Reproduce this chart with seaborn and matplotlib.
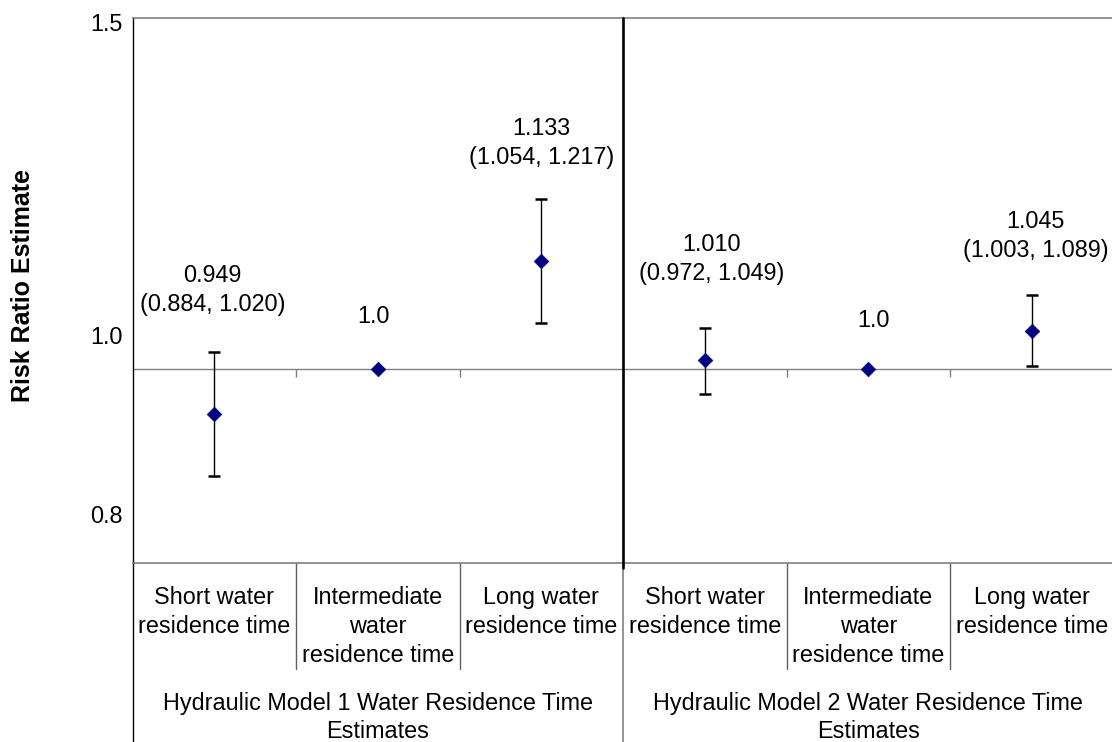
import numpy as np
import pandas as pd
import matplotlib
matplotlib.use("Agg")
import matplotlib.pyplot as plt
import matplotlib.transforms as mtransforms
from matplotlib.ticker import FixedLocator, FixedFormatter, NullFormatter
import seaborn as sns

# ---------------- data ----------------
categories = [
    "Short water\nresidence time",
    "Intermediate\nwater\nresidence time",
    "Long water\nresidence time",
    "Short water\nresidence time",
    "Intermediate\nwater\nresidence time",
    "Long water\nresidence time",
]
groups = [
    "Hydraulic Model 1 Water Residence Time\nEstimates",
    "Hydraulic Model 2 Water Residence Time\nEstimates",
]
group_index = [0, 0, 0, 1, 1, 1]
estimates = [0.949, 1.0, 1.133, 1.010, 1.0, 1.045]
lower = [0.884, np.nan, 1.054, 0.972, np.nan, 1.003]
upper = [1.020, np.nan, 1.217, 1.049, np.nan, 1.089]
ytick_labels = ["0.8", "1.0", "1.5"]
y_label = "Risk Ratio Estimate"

# ---------------- layout / style ----------------
label_offsets = [(-2, 41), (-4, 46), (0, 35), (7, 48), (5, 42), (4, 38)]  # pixels
ytick_label_pos = [0.846, 1.040, 1.493]
ytick_mark_pos = [0.8, 1.0073, 1.4238]
FS = 16.8
LS = 1.32
GRAY = "#808080"
NAVY = "#000080"

sns.set_style("white")
plt.rcParams["font.family"] = ["Liberation Sans", "DejaVu Sans"]
plt.rcParams["text.color"] = "black"
plt.rcParams["ytick.color"] = "black"
plt.rcParams["axes.labelcolor"] = "black"

df = pd.DataFrame({
    "pos": np.arange(len(categories)),
    "rr": estimates,
    "lo": lower,
    "hi": upper,
    "group": group_index,
})

fig = plt.figure(figsize=(11.12, 7.42), dpi=100)
W, H = 1112, 742
ax = fig.add_axes([132.5 / W, (H - 562.5) / H, 981 / W, 545 / H])

# reference line at 1.0 with category tick marks
ax.axhline(1.0, color=GRAY, lw=1.0, zorder=1)
boundaries = np.arange(len(categories) - 1) + 0.5
ax.plot(boundaries, np.ones_like(boundaries), linestyle="none", marker=3,
        markersize=5.5, markeredgewidth=1.0, color=GRAY, zorder=1)

# error bars
m = df["lo"].notna()
sub = df[m]
ax.errorbar(sub["pos"], sub["rr"], yerr=[sub["rr"] - sub["lo"], sub["hi"] - sub["rr"]],
            fmt="none", ecolor="black", elinewidth=1.0, capsize=4, capthick=1.8, zorder=3)

# points
sns.scatterplot(data=df, x="pos", y="rr", marker="D", color=NAVY, s=55,
                edgecolor=NAVY, linewidth=0.5, zorder=5, ax=ax, legend=False)

ax.set_yscale("log")
ax.set_ylim(0.8, 1.5)
ax.set_xlim(-0.5, len(categories) - 0.5)
ax.set_xlabel("")
ax.set_ylabel("")
ax.set_xticks([])
ax.yaxis.set_major_locator(FixedLocator(ytick_label_pos))
ax.yaxis.set_major_formatter(FixedFormatter(ytick_labels))
ax.yaxis.set_minor_locator(FixedLocator(ytick_mark_pos))
ax.yaxis.set_minor_formatter(NullFormatter())
ax.tick_params(axis="y", which="major", length=0, pad=7, labelsize=FS, labelcolor="black")
ax.tick_params(axis="y", which="minor", length=3.5, width=0.9, color="black", direction="out")

for side in ["top", "bottom"]:
    ax.spines[side].set_color(GRAY)
    ax.spines[side].set_linewidth(1.2)
ax.spines["left"].set_color("black")
ax.spines["left"].set_linewidth(1.0)
ax.spines["right"].set_visible(False)

# value labels
for i, r in df.iterrows():
    if np.isnan(r["lo"]):
        txt = f"{r['rr']:.1f}"
        anchor = r["rr"]
    else:
        txt = f"{r['rr']:.3f}\n({r['lo']:.3f}, {r['hi']:.3f})"
        anchor = r["hi"]
    ax.annotate(txt, xy=(r["pos"], anchor), xytext=label_offsets[i],
                textcoords="offset pixels", ha="center", va="baseline",
                fontsize=FS, linespacing=LS, color="black")

# separator between models
trans = mtransforms.blended_transform_factory(ax.transData, ax.transAxes)
sep_x = 2.5
ax.plot([sep_x, sep_x], [-0.011, 1.0], color="black", lw=1.9, transform=trans,
        clip_on=False, zorder=6)

# category table below
cat_bottom = (562.5 - 669) / 545
grp_bottom = (562.5 - 742) / 545
for b in boundaries:
    if b == sep_x:
        ax.plot([b, b], [0, grp_bottom], color=GRAY, lw=1.2, transform=trans, clip_on=False)
    else:
        ax.plot([b, b], [0, cat_bottom], color="#606060", lw=1.0, transform=trans, clip_on=False)
ax.plot([-0.5, -0.5], [0, grp_bottom], color="black", lw=1.0, transform=trans, clip_on=False)

for i, c in enumerate(categories):
    ax.text(i, (562.5 - 586) / 545, c, transform=trans, ha="center", va="top",
            fontsize=FS, linespacing=LS, color="black")

for g, name in enumerate(groups):
    xs = df.loc[df["group"] == g, "pos"]
    ax.text(xs.mean(), (562.5 - 692) / 545, name, transform=trans, ha="center",
            va="top", fontsize=FS, linespacing=LS - 0.04, color="black")

fig.text(23 / W, 1 - 285 / H, y_label, rotation=90, fontsize=18, fontweight="bold",
         ha="center", va="center", color="black")

fig.savefig("out.png", dpi=100)
